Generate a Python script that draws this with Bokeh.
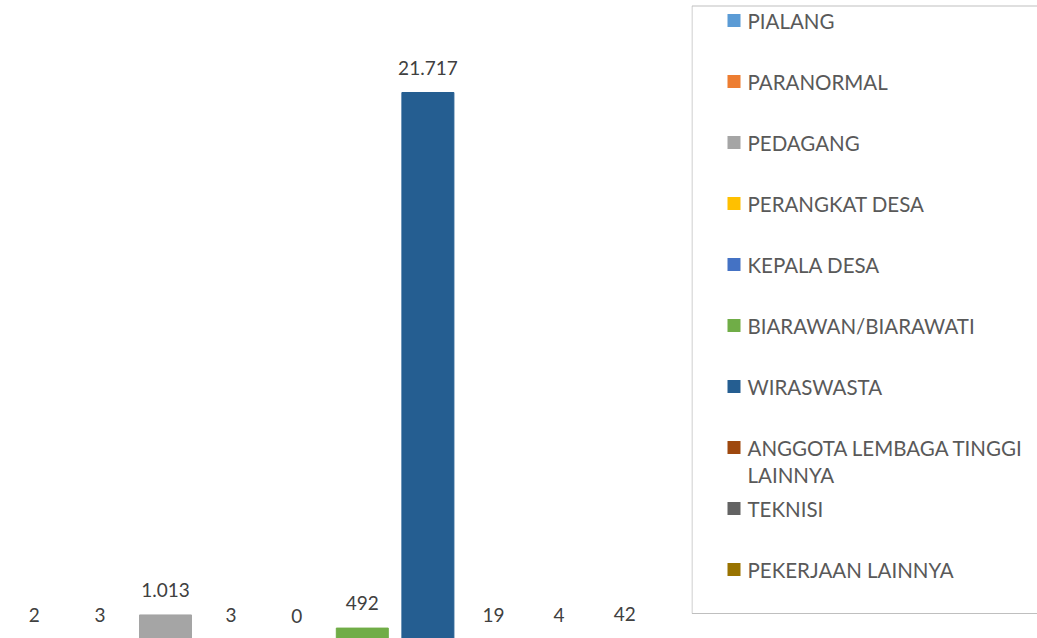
from bokeh.plotting import figure
from bokeh.models import ColumnDataSource, Range1d
from bokeh.layouts import row
from bokeh.core.properties import value
from bokeh.embed import file_html
from bokeh.resources import INLINE

categories = ["PIALANG", "PARANORMAL", "PEDAGANG", "PERANGKAT DESA", "KEPALA DESA",
              "BIARAWAN/BIARAWATI", "WIRASWASTA", "ANGGOTA LEMBAGA TINGGI\nLAINNYA",
              "TEKNISI", "PEKERJAAN LAINNYA"]
values = [2, 3, 1013, 3, 0, 492, 21717, 19, 4, 42]
colors = ["#5B9BD5", "#ED7D31", "#A5A5A5", "#FFC000", "#4472C4",
          "#70AD47", "#255E91", "#9E480E", "#636363", "#997300"]
value_labels = [f"{v:,}".replace(",", ".") for v in values]

FONT = "Lato"
n = len(categories)
W_BARS, W_LEG, H = 691, 346, 638
step_px = 65.6
x_start = -33.8 / step_px
k = 548.0 / max(values)          # px per unit; the baseline sits just below the window
y_start = 2.0 / k
y_end = max(values) + 92.0 / k

src = ColumnDataSource(dict(x=list(range(n)), top=values, color=colors,
                            label=value_labels, name=categories))

p = figure(width=W_BARS, height=H, output_backend="svg", toolbar_location=None,
           x_range=Range1d(x_start, x_start + W_BARS / step_px),
           y_range=Range1d(y_start, y_end), min_border=0,
           min_border_left=0, min_border_right=0, min_border_top=0, min_border_bottom=0)
p.vbar(x="x", top="top", bottom=0, width=52 / step_px, color="color", source=src)
p.text(x="x", y="top", text="label", source=src, text_align="center",
       text_baseline="alphabetic", y_offset=-25, text_font=value(FONT),
       text_font_size="19px", text_color="#404040")
p.axis.visible = False
p.grid.visible = False
p.outline_line_color = None

# legend panel
lg = figure(width=W_LEG, height=H, output_backend="svg", toolbar_location=None,
            x_range=Range1d(0, W_LEG), y_range=Range1d(H, 0), min_border=0,
            min_border_left=0, min_border_right=0, min_border_top=0, min_border_bottom=0)
lg.axis.visible = False
lg.grid.visible = False
lg.outline_line_color = None
lg.quad(left=0.5, right=W_LEG + 20, top=5.5, bottom=613, fill_color=None,
        line_color="#BFBFBF", line_width=1)
row_y = [20 + 61 * i for i in range(n)]
lsrc = ColumnDataSource(dict(y=row_y, ty=[y - 12 for y in row_y], color=colors, name=categories))
lg.rect(x=42.5, y="y", width=13, height=13, fill_color="color", line_color=None, source=lsrc)
lg.text(x=56, y="ty", text="name", source=lsrc, text_baseline="top", text_align="left",
        text_font=value(FONT), text_font_size="20.5px", text_color="#595959",
        text_line_height=1.15)

layout = row(p, lg, spacing=0)
open("out.html", "w").write(file_html(layout, INLINE))
